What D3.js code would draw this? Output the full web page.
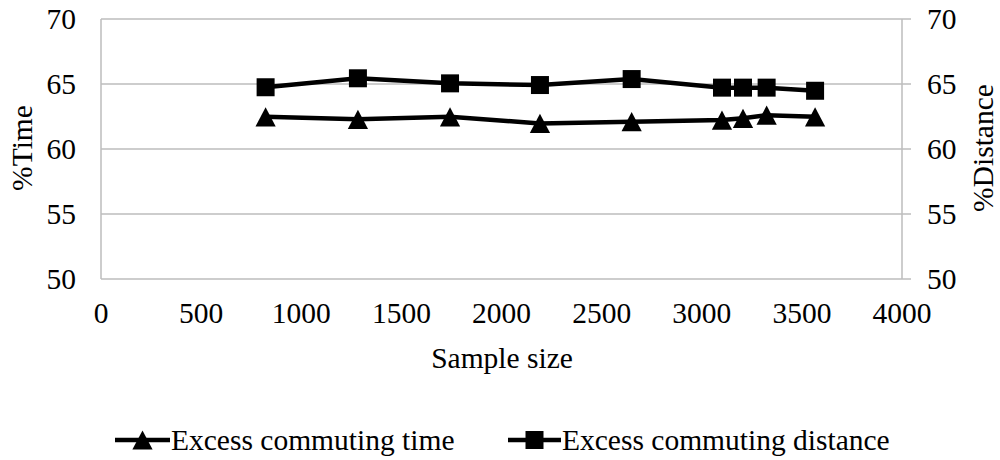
<!DOCTYPE html>
<html>
<head>
<meta charset="utf-8">
<script src="https://cdn.jsdelivr.net/npm/d3@7"></script>
<style>
  html, body { margin: 0; padding: 0; background: #fff; }
</style>
</head>
<body>
<svg id="chart" width="1000" height="460" font-family="'Liberation Serif', 'Times New Roman', Times, serif"></svg>
<script>
// Data
const sampleSize = [822, 1283, 1743, 2192, 2650, 3101, 3206, 3324, 3566];
const excessTime = [62.48, 62.28, 62.48, 61.97, 62.1, 62.23, 62.36, 62.6, 62.48];
const excessDistance = [64.75, 65.44, 65.05, 64.92, 65.38, 64.72, 64.72, 64.72, 64.48];
const xTicks = [0, 500, 1000, 1500, 2000, 2500, 3000, 3500, 4000];
const yTicks = [50, 55, 60, 65, 70];
const seriesNames = ["Excess commuting time", "Excess commuting distance"];

(function () {
const svg = d3.select("#chart");
const pLeft = 101, pRight = 902, pTop = 19, pBottom = 279;
const x = d3.scaleLinear().domain([0, 4000]).range([pLeft, pRight]);
const y = d3.scaleLinear().domain([50, 70]).range([pBottom, pTop]);
const grid = "#bdbdbd";
const fs = 29.5;
const ff = "'Liberation Serif', 'Times New Roman', Times, serif";

// gridlines
svg.append("g").selectAll("line").data(yTicks).join("line")
  .attr("x1", pLeft).attr("x2", pRight + 9)
  .attr("y1", d => y(d)).attr("y2", d => y(d))
  .attr("stroke", grid).attr("stroke-width", 1.5);
// left & right borders
svg.append("line").attr("x1", pLeft).attr("x2", pLeft).attr("y1", pTop).attr("y2", pBottom)
  .attr("stroke", grid).attr("stroke-width", 1.5);
svg.append("line").attr("x1", pRight).attr("x2", pRight).attr("y1", pTop).attr("y2", pBottom)
  .attr("stroke", grid).attr("stroke-width", 1.5);

const txt = sel => sel.attr("font-family", ff).attr("font-size", fs).attr("fill", "#000");

// left y labels
svg.append("g").selectAll("text").data(yTicks).join("text")
  .attr("x", 76).attr("y", d => y(d)).attr("dy", "0.35em")
  .attr("text-anchor", "end").call(txt).text(d => d);
// right y labels
svg.append("g").selectAll("text").data(yTicks).join("text")
  .attr("x", 927).attr("y", d => y(d)).attr("dy", "0.35em")
  .attr("text-anchor", "start").call(txt).text(d => d);
// x labels
svg.append("g").selectAll("text").data(xTicks).join("text")
  .attr("x", d => x(d)).attr("y", 323)
  .attr("text-anchor", "middle").call(txt).text(d => d);

// axis titles
svg.append("text").attr("x", 502).attr("y", 368).attr("text-anchor", "middle")
  .call(txt).text("Sample size");
svg.append("text").attr("transform", "translate(32,148) rotate(-90)")
  .attr("text-anchor", "middle").call(txt).text("%Time");
svg.append("text").attr("transform", "translate(993,148) rotate(-90)")
  .attr("text-anchor", "middle").call(txt).text("%Distance");

// series
const line = d3.line();
const ptsT = sampleSize.map((s, i) => [x(s), y(excessTime[i])]);
const ptsD = sampleSize.map((s, i) => [x(s), y(excessDistance[i])]);
svg.append("path").attr("d", line(ptsT)).attr("fill", "none").attr("stroke", "#000").attr("stroke-width", 4.5);
svg.append("path").attr("d", line(ptsD)).attr("fill", "none").attr("stroke", "#000").attr("stroke-width", 4.5);

// triangle centred on its bounding box, width ~ height
const triType = {
  draw(ctx, size) {
    const w = Math.sqrt(size * 2);
    const h = w * 0.95;
    ctx.moveTo(0, -h / 2);
    ctx.lineTo(w / 2, h / 2);
    ctx.lineTo(-w / 2, h / 2);
    ctx.closePath();
  }
};
const tri = d3.symbol().type(triType).size(205);
const sq = d3.symbol().type(d3.symbolSquare).size(324);
svg.append("g").selectAll("path").data(ptsT).join("path")
  .attr("d", tri).attr("transform", d => `translate(${d[0]},${d[1]})`).attr("fill", "#000");
svg.append("g").selectAll("path").data(ptsD).join("path")
  .attr("d", sq).attr("transform", d => `translate(${d[0]},${d[1]})`).attr("fill", "#000");

// legend
const legY = 440;
const leg = [
  { x0: 115, x1: 170, sym: tri, name: seriesNames[0] },
  { x0: 508, x1: 561, sym: sq, name: seriesNames[1] }
];
leg.forEach(l => {
  svg.append("line").attr("x1", l.x0).attr("x2", l.x1).attr("y1", legY).attr("y2", legY)
    .attr("stroke", "#000").attr("stroke-width", 4.5);
  svg.append("path").attr("d", l.sym).attr("transform", `translate(${(l.x0 + l.x1) / 2},${legY})`).attr("fill", "#000");
  svg.append("text").attr("x", l.x1 + 1).attr("y", legY + 10).call(txt).text(l.name);
});
})();
</script>
</body>
</html>
